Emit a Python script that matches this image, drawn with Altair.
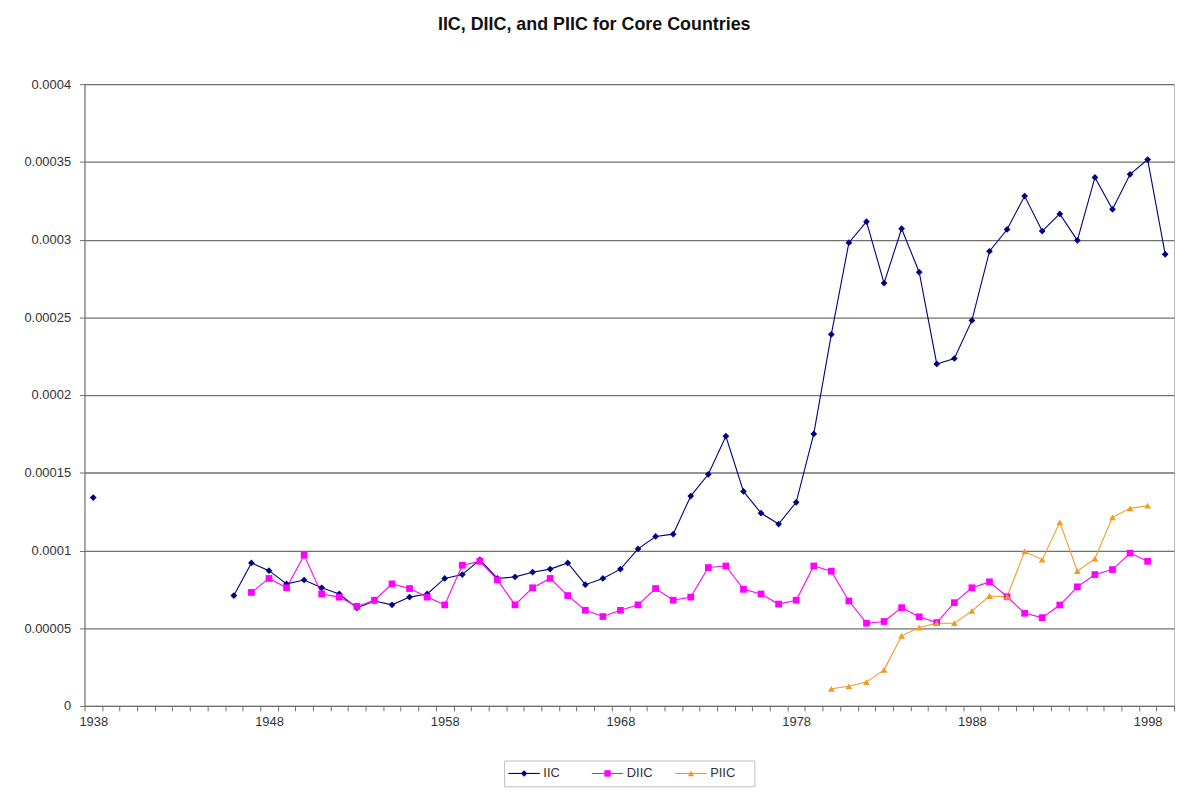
import altair as alt
import pandas as pd

# ---------------- data ----------------
all_years = list(range(1938, 2000))

iic_years = [1938,
             1946, 1947, 1948, 1949, 1950, 1951, 1952, 1953, 1954, 1955,
             1956, 1957, 1958, 1959, 1960, 1961, 1962, 1963, 1964, 1965,
             1966, 1967, 1968, 1969, 1970, 1971, 1972, 1973, 1974, 1975,
             1976, 1977, 1978, 1979, 1980, 1981, 1982, 1983, 1984, 1985,
             1986, 1987, 1988, 1989, 1990, 1991, 1992, 1993, 1994, 1995,
             1996, 1997, 1998, 1999]
iic_values = [0.000134,
              0.000071, 0.000092, 0.000087, 0.0000785, 0.000081, 0.000076, 0.000072, 0.000063, 0.0000675, 0.000065,
              0.000070, 0.000072, 0.000082, 0.0000845, 0.000094, 0.000082, 0.000083, 0.000086, 0.000088, 0.000092,
              0.000078, 0.000082, 0.000088, 0.000101, 0.000109, 0.0001105, 0.000135, 0.000149, 0.0001735, 0.000138,
              0.000124, 0.000117, 0.000131, 0.000175, 0.000239, 0.000298, 0.0003115, 0.000272, 0.000307, 0.000279,
              0.000220, 0.0002235, 0.000248, 0.0002925, 0.0003065, 0.000328, 0.0003055, 0.0003165, 0.0002995, 0.000340,
              0.0003195, 0.000342, 0.0003515, 0.0002905]

diic_years = [1947, 1948, 1949, 1950, 1951, 1952, 1953, 1954, 1955, 1956,
              1957, 1958, 1959, 1960, 1961, 1962, 1963, 1964, 1965, 1966,
              1967, 1968, 1969, 1970, 1971, 1972, 1973, 1974, 1975, 1976,
              1977, 1978, 1979, 1980, 1981, 1982, 1983, 1984, 1985, 1986,
              1987, 1988, 1989, 1990, 1991, 1992, 1993, 1994, 1995, 1996,
              1997, 1998]
diic_values = [0.000073, 0.000082, 0.000076, 0.000097, 0.000072, 0.000070, 0.000064, 0.000068, 0.0000785, 0.0000755,
               0.000070, 0.000065, 0.0000905, 0.000093, 0.000081, 0.000065, 0.000076, 0.000082, 0.000071, 0.0000615,
               0.0000575, 0.0000615, 0.000065, 0.0000755, 0.000068, 0.000070, 0.000089, 0.000090, 0.000075, 0.000072,
               0.0000655, 0.000068, 0.000090, 0.0000867, 0.0000675, 0.0000532, 0.0000543, 0.0000632, 0.0000573, 0.0000536,
               0.0000664, 0.000076, 0.0000798, 0.0000702, 0.0000596, 0.0000568, 0.0000649, 0.0000766, 0.0000845, 0.0000877,
               0.0000983, 0.000093]

piic_years = [1980, 1981, 1982, 1983, 1984, 1985, 1986, 1987, 1988, 1989,
              1990, 1991, 1992, 1993, 1994, 1995, 1996, 1997, 1998]
piic_values = [0.000011, 0.0000126, 0.0000153, 0.0000232, 0.0000451, 0.0000504, 0.0000532, 0.0000532, 0.0000611, 0.0000707,
               0.0000702, 0.0000994, 0.0000941, 0.0001181, 0.0000867, 0.0000947, 0.0001213, 0.0001271, 0.0001288]

series_names = ["IIC", "DIIC", "PIIC"]
series_colors = ["#000080", "#FF00FF", "#F29A1F"]
series_shapes = ["diamond", "square", "triangle-up"]
y_ticks = [0, 0.00005, 0.0001, 0.00015, 0.0002, 0.00025, 0.0003, 0.00035, 0.0004]

rows = []
for name, yrs, vals in [("IIC", iic_years, iic_values),
                        ("DIIC", diic_years, diic_values),
                        ("PIIC", piic_years, piic_values)]:
    for yr, v in zip(yrs, vals):
        rows.append({"year": yr, "value": v, "series": name,
                     "seg": "pre" if yr < 1946 else "post"})
df = pd.DataFrame(rows)
legend_df = pd.DataFrame({"series": series_names})

FONT = "Liberation Sans"

color_scale = alt.Scale(domain=series_names, range=series_colors)
shape_scale = alt.Scale(domain=series_names, range=series_shapes)

x_enc = alt.X(
    "year:O",
    bandPosition=0.5,
    scale=alt.Scale(type="band", domain=all_years, paddingInner=0, paddingOuter=0),
    axis=alt.Axis(
        title=None, grid=False, tickBand="extent", labelAngle=0,
        labelExpr="(datum.value - 1938) % 10 == 0 ? datum.value : ''",
        labelOverlap=False, labelFont=FONT, labelFontSize=13, labelColor="#333333",
        domainColor="#707070", tickColor="#707070", tickSize=5, labelPadding=5,
    ),
)
y_enc = alt.Y(
    "value:Q",
    scale=alt.Scale(domain=[0, 0.0004], nice=False, zero=True),
    axis=alt.Axis(
        title=None, values=y_ticks, format="~g", grid=True,
        gridColor="#707070", gridWidth=1.3, domainColor="#707070", tickColor="#707070",
        tickSize=5, labelFont=FONT, labelFontSize=13, labelColor="#333333",
        labelPadding=9, minExtent=71, maxExtent=71,
    ),
)

base = alt.Chart(df)
lines = base.mark_line(strokeWidth=1.1).encode(
    x=x_enc, y=y_enc,
    color=alt.Color("series:N", scale=color_scale, legend=None),
    detail="seg:N",
)
points = base.mark_point(filled=True, size=46, opacity=1).encode(
    x=x_enc, y=y_enc,
    color=alt.Color("series:N", scale=color_scale, legend=None),
    shape=alt.Shape("series:N", scale=shape_scale, legend=None),
)
main = alt.layer(lines, points).properties(width=1097, height=626)

# ---------------- legend box ----------------
leg_scale = alt.Scale(type="band", domain=series_names, paddingInner=0, paddingOuter=0)
lx = alt.X("series:N", bandPosition=0.24, scale=leg_scale, axis=None)
leg_lines = alt.Chart(legend_df).mark_point(shape="stroke", size=1000, strokeWidth=1.1, opacity=1).encode(
    x=lx, color=alt.Color("series:N", scale=color_scale, legend=None))
leg_marks = alt.Chart(legend_df).mark_point(filled=True, size=42, opacity=1).encode(
    x=lx, color=alt.Color("series:N", scale=color_scale, legend=None),
    shape=alt.Shape("series:N", scale=shape_scale, legend=None))
leg_text = alt.Chart(legend_df).mark_text(align="left", baseline="middle", font=FONT,
                                           fontSize=13, color="#333333").encode(
    x=alt.X("series:N", bandPosition=0.47, scale=leg_scale, axis=None),
    text="series:N")
legend = alt.layer(leg_lines, leg_marks, leg_text).properties(width=252, height=26)

chart = alt.vconcat(
    main, legend, center=True, bounds="flush",
    title=alt.TitleParams("IIC, DIIC, and PIIC for Core Countries", font=FONT,
                          fontSize=18, fontWeight="bold", color="#111111",
                          anchor="middle", offset=44),
).properties(
    padding={"left": 5, "top": 5, "right": 0, "bottom": 0},
).configure_view(
    stroke="#bdbdbd", strokeWidth=1,
).configure_concat(spacing=55)

chart.save("out.html", embed_options={"renderer": "svg", "actions": False})
